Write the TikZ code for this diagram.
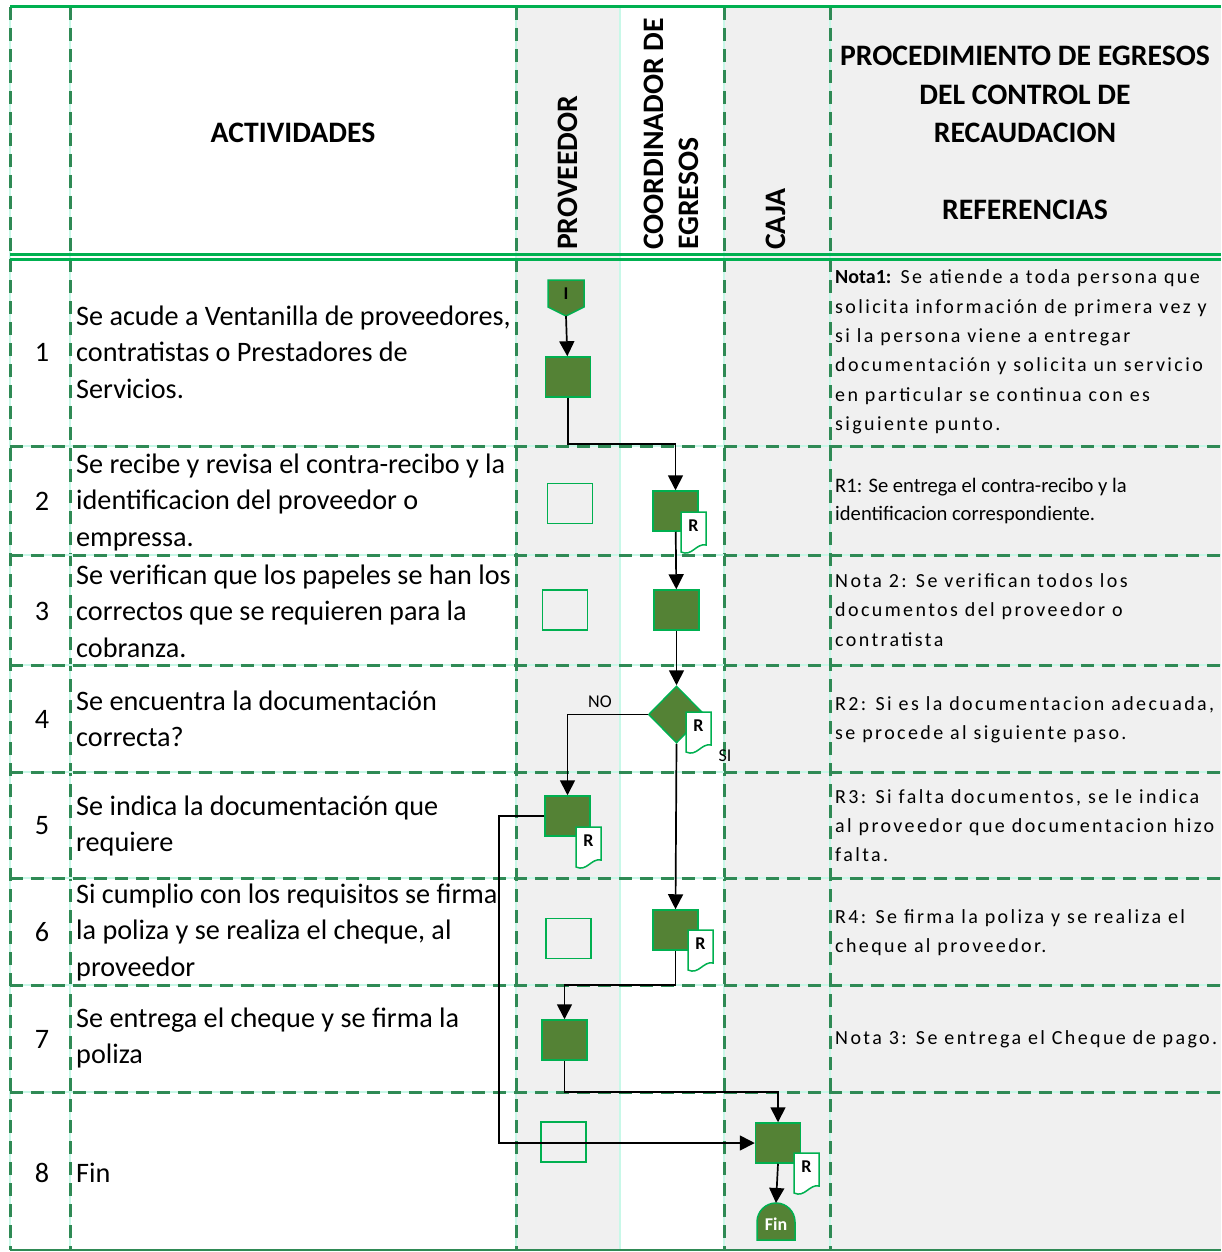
\documentclass[tikz,border=0pt]{standalone}
\usepackage{fontspec}
\setmainfont{Carlito}
\newfontfamily\espaciada[LetterSpace=12]{Carlito}
\usetikzlibrary{shapes.geometric,arrows.meta}

\definecolor{cajaverde}{HTML}{548235}
\definecolor{bordeverde}{HTML}{00B050}
\definecolor{lineaosc}{HTML}{2F8A55}
\definecolor{lineaclara}{HTML}{C8F8E8}
\definecolor{fondogris}{HTML}{F0F0F0}

\tikzset{
  rejilla/.style={draw=lineaosc, line width=3pt, dash pattern=on 13pt off 8pt,
    preaction={draw=lineaclara, solid, line width=2.8pt}},
  tarea/.style={rectangle, fill=cajaverde, draw=bordeverde, line width=1.5pt,
    minimum width=45pt, minimum height=40pt, inner sep=0pt},
  vacia/.style={rectangle, draw=bordeverde, line width=1.5pt,
    minimum width=45pt, minimum height=40pt, inner sep=0pt},
  decision/.style={diamond, fill=cajaverde, draw=bordeverde, line width=1.5pt,
    minimum width=56pt, minimum height=57pt, inner sep=0pt},
  flujo/.style={line width=1.7pt, -{Triangle[width=15pt,length=15pt]}},
  actividad/.style={anchor=west, align=left, inner sep=0pt, font=\fontsize{28.2}{36.5}\selectfont},
  numero/.style={inner sep=0pt, font=\fontsize{28.2}{36.5}\selectfont},
  referencia/.style={anchor=west, align=left, inner sep=0pt, font=\espaciada\fontsize{20}{29.3}\selectfont},
  encabezado/.style={inner sep=0pt, font=\bfseries\fontsize{29.7}{38.5}\selectfont},
  etiqueta/.style={inner sep=0pt, font=\fontsize{18}{18}\selectfont},
  docR/.pic={
    \filldraw[fill=white, draw=bordeverde, line width=1.5pt]
      (0,0) -- (25,0) -- (25,33) .. controls (15,31) and (11,45) .. (0,40) -- cycle;
    \node[font=\bfseries\fontsize{18}{18}\selectfont] at (12.5,14) {R};
  }
}

\begin{document}
\begin{tikzpicture}[x=1pt, y=-1pt]
  \useasboundingbox (0,0) rectangle (1221,1252);

  % fondos de las columnas
  \fill[fondogris] (516,7) rectangle (620,1250);
  \fill[fondogris] (724,7) rectangle (1221,1250);

  % rejilla
  \draw[lineaclara, line width=2pt] (620,7) -- (620,1250);
  \draw[rejilla] (10,7) -- (10,1250);
  \draw[rejilla] (70,7) -- (70,1250);
  \draw[rejilla] (516,7) -- (516,1250);
  \draw[rejilla] (724,7) -- (724,1250);
  \draw[rejilla] (830,7) -- (830,1250);
  \draw[rejilla] (10,446) -- (1221,446);
  \draw[rejilla] (10,555) -- (1221,555);
  \draw[rejilla] (10,665) -- (1221,665);
  \draw[rejilla] (10,772) -- (1221,772);
  \draw[rejilla] (10,878) -- (1221,878);
  \draw[rejilla] (10,985) -- (1221,985);
  \draw[rejilla] (10,1092) -- (1221,1092);
  \draw[bordeverde, line width=3pt] (10,7) -- (1221,7);
  \draw[bordeverde, line width=2.2pt] (10,254.5) -- (1221,254.5);
  \draw[bordeverde, line width=2.2pt] (10,259.5) -- (1221,259.5);
  \draw[lineaosc, line width=2pt] (10,1250) -- (1221,1250);

  % encabezados
  \node[encabezado] (hAct) at (293,133) {ACTIVIDADES};
  \node[encabezado, rotate=90, anchor=west] (hProv) at (568,250) {PROVEEDOR};
  \node[encabezado, rotate=90, anchor=west, align=left, font=\bfseries\fontsize{29.7}{35}\selectfont] (hCoord) at (671,250) {COORDINADOR DE\\EGRESOS};
  \node[encabezado, rotate=90, anchor=west] (hCaja) at (776,250) {CAJA};
  \node[encabezado, align=center] (hRef) at (1025,133) {PROCEDIMIENTO DE EGRESOS\\DEL CONTROL DE\\RECAUDACION\\[38.5pt]REFERENCIAS};

  % numeros
  \node[numero] (n1) at (42,352) {1};
  \node[numero] (n2) at (42,501) {2};
  \node[numero] (n3) at (42,611) {3};
  \node[numero] (n4) at (42,719) {4};
  \node[numero] (n5) at (42,826) {5};
  \node[numero] (n6) at (42,932) {6};
  \node[numero] (n7) at (42,1039) {7};
  \node[numero] (n8) at (42,1173) {8};

  % actividades
  \node[actividad] (t1) at (76,352) {Se acude a Ventanilla de proveedores,\\contratistas o Prestadores de\\Servicios.};
  \node[actividad] (t2) at (76,502) {Se recibe y revisa el contra-recibo y la\\identificacion del proveedor o\\empressa.};
  \node[actividad] (t3) at (76,611) {Se verifican que los papeles se han los\\correctos que se requieren para la\\cobranza.};
  \node[actividad] (t4) at (76,719) {Se encuentra la documentación\\correcta?};
  \node[actividad] (t5) at (76,826) {Se indica la documentación que\\requiere};
  \node[actividad] (t6) at (76,932) {Si cumplio con los requisitos se firma\\la poliza y se realiza el cheque, al\\proveedor};
  \node[actividad] (t7) at (76,1038) {Se entrega el cheque y se firma la\\poliza};
  \node[actividad] (t8) at (76,1173) {Fin};

  % referencias
  \node[referencia] (r1) at (835,352) {{\setmainfont{Carlito}\bfseries Nota1:} Se atiende a toda persona que\\solicita información de primera vez y\\si la persona viene a entregar\\documentación y solicita un servicio\\en particular se continua con es\\siguiente punto.};
  \node[referencia, font=\fontsize{20.6}{28}\selectfont] (r2) at (835,501) {R1: Se entrega el contra-recibo y la\\identificacion correspondiente.};
  \node[referencia] (r3) at (835,610) {Nota 2: Se verifican todos los\\documentos del proveedor o\\contratista};
  \node[referencia] (r4) at (835,719.5) {R2: Si es la documentacion adecuada,\\se procede al siguiente paso.};
  \node[referencia] (r5) at (835,825.5) {R3: Si falta documentos, se le indica\\al proveedor que documentacion hizo\\falta.};
  \node[referencia] (r6) at (835,932.5) {R4: Se firma la poliza y se realiza el\\cheque al proveedor.};
  \node[referencia] (r7) at (835,1039) {Nota 3: Se entrega el Cheque de pago.};

  % simbolos del diagrama
  \filldraw[fill=cajaverde, draw=bordeverde, line width=1.5pt] (548,280) -- (584,280) -- (584,307) -- (566,316) -- (548,307) -- cycle;
  \node[font=\bfseries\fontsize{18}{18}\selectfont] (inicio) at (566,294) {I};
  \coordinate (inicioPunta) at (566,316);
  \node[tarea] (prov1) at (568,377) {};
  \node[vacia] (prov2) at (570,503.5) {};
  \node[tarea] (coord2) at (675.5,511) {};
  \node[vacia] (prov3) at (565,610) {};
  \node[tarea] (coord3) at (676.5,610) {};
  \node[decision] (coord4) at (676.5,714.5) {};
  \node[tarea] (prov5) at (567.5,816) {};
  \node[vacia] (prov6) at (568.5,938.5) {};
  \node[tarea] (coord6) at (675.5,930) {};
  \node[tarea] (prov7) at (564.5,1040) {};
  \node[vacia] (prov8) at (563.5,1142) {};
  \node[tarea] (caja8) at (778,1143) {};
  \filldraw[fill=cajaverde, draw=bordeverde, line width=1.5pt] (757,1240) -- (757,1222) arc[start angle=180, end angle=360, radius=19] -- (795,1240) -- cycle;
  \node[font=\bfseries\fontsize{18}{18}\selectfont, text=white] (fin) at (776,1224) {Fin};
  \coordinate (finArriba) at (776,1203);

  % conectores
  \draw[flujo] (inicioPunta) -- (prov1);
  \draw[flujo] (prov1.south) -- ++(0,46) -| (coord2.north);
  \draw[flujo] (coord2) -- (coord3);
  \draw[flujo] (coord3) -- (coord4);
  \draw[flujo] (coord4.west) -| (prov5.north);
  \node[etiqueta] (no) at (600,702) {NO};
  \draw[flujo] (coord4.south) -- (coord6.north);
  \node[etiqueta] (si) at (725,756) {SI};
  \draw[flujo] (prov5.west) -- ++(-45,0) |- (caja8.west);
  \draw[flujo] (coord6.south) -- ++(0,34) -| (prov7.north);
  \draw[flujo] (prov7.south) -- ++(0,31) -| (caja8.north);
  \draw[flujo] (caja8.south) -- (finArriba);

  % documentos R
  \pic at (681,512) {docR};
  \pic at (686,712) {docR};
  \pic at (576,827) {docR};
  \pic at (688,930) {docR};
  \pic at (794,1153) {docR};
\end{tikzpicture}
\end{document}
